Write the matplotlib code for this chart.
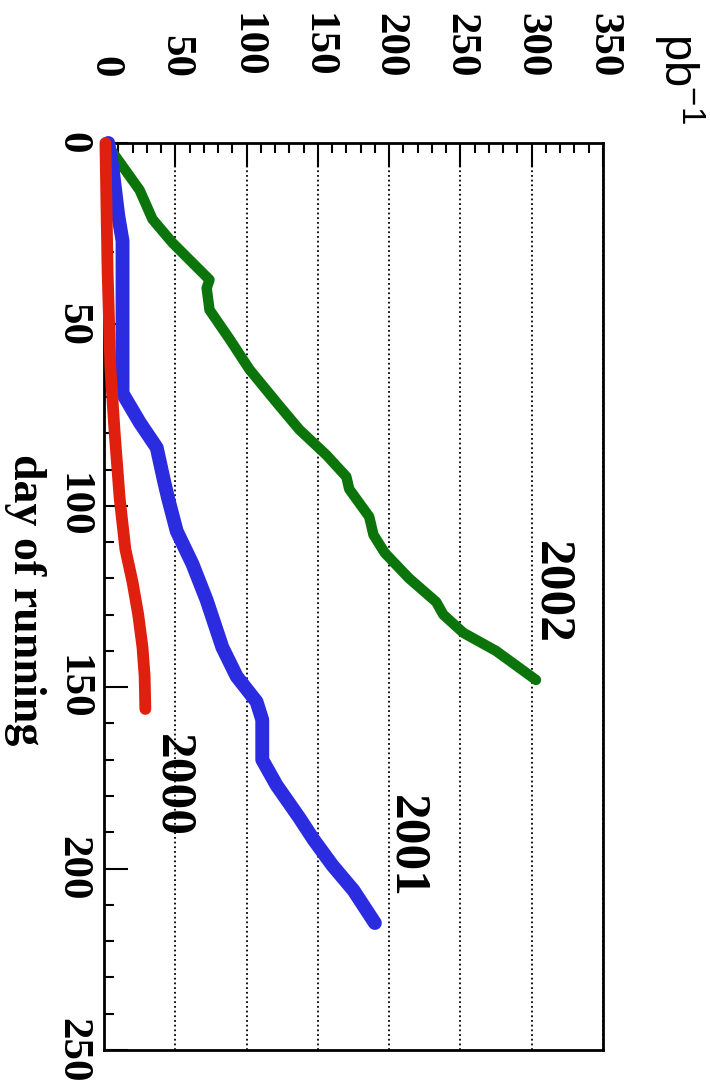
import numpy as np
import matplotlib.pyplot as plt
from matplotlib.ticker import MultipleLocator

plt.rcParams['font.family'] = ['Liberation Serif', 'DejaVu Serif']
plt.rcParams['font.weight'] = 'bold'
plt.rcParams['mathtext.default'] = 'regular'

# integrated luminosity (pb^-1) against day of running, one run per year
day_2000 = [0, 35, 62, 80, 98, 112, 121, 130, 139, 147, 156]
lumi_2000 = [1, 2.5, 4.5, 7.5, 11, 15, 20, 24, 27, 28.5, 29]

day_2001 = [0, 7, 20, 27, 69, 77, 84, 93, 98, 107, 116, 126, 139, 147, 154, 159,
            170, 177, 186, 192, 199, 206, 215]
lumi_2001 = [3, 6, 10, 13, 13, 25, 37, 42, 45, 51, 62, 72, 83, 93, 107, 111,
             111, 121, 137, 147, 160, 175, 190]

day_2002 = [2, 13, 21, 27.5, 37.7, 40, 46, 54, 62.4, 71.5, 79, 86, 92, 95.4,
            103, 108, 113, 120, 126.5, 130, 135, 140, 148]
lumi_2002 = [5, 25, 34, 48, 74, 72, 74, 88, 102, 121, 137, 156, 170, 172,
             186, 189, 197, 214, 233, 238, 252, 275, 303]

years = ['2000', '2001', '2002']
colors = ['#e0200f', '#2b2be0', '#0b750b']
label_pos = [(48, 177), (212, 194), (314, 124)]

fig = plt.figure(figsize=(7.1, 10.92), dpi=100)
ax = fig.add_axes([104/710, 1 - 1050/1092, 499/710, 907/1092])

line_kw = dict(solid_capstyle='round', solid_joinstyle='round', clip_on=False)
ax.plot(lumi_2002, day_2002, color=colors[2], lw=7.5, zorder=3, **line_kw)
ax.plot(lumi_2001, day_2001, color=colors[1], lw=10, zorder=4, **line_kw)
ax.plot(lumi_2000, day_2000, color=colors[0], lw=8.5, zorder=5, **line_kw)

for yr, (x, y) in zip(years, label_pos):
    ax.text(x, y, yr, rotation=-90, ha='center', va='center', fontsize=37,
            zorder=6)

ax.set_xlim(0, 350)
ax.set_ylim(250, 0)

ax.xaxis.tick_top()
ax.xaxis.set_major_locator(MultipleLocator(50))
ax.xaxis.set_minor_locator(MultipleLocator(10))
ax.yaxis.set_major_locator(MultipleLocator(50))
ax.yaxis.set_minor_locator(MultipleLocator(10))
ax.tick_params(which='both', direction='in', width=1.5, color='k',
               top=True, bottom=False, left=True, right=False)
ax.tick_params(which='major', length=17)
ax.tick_params(which='minor', length=7)
ax.tick_params(axis='x', labelsize=31, pad=47, labelrotation=-90)
ax.tick_params(axis='y', labelsize=31, pad=9, labelrotation=-90)
for lab in ax.get_yticklabels():
    lab.set_va('center')

ax.grid(axis='x', which='major', color='k', ls=(0, (1, 1.6)), lw=1.3, zorder=1)
for sp in ax.spines.values():
    sp.set_linewidth(2)

fig.text(25/710, 1 - 600/1092, 'day of running', rotation=-90, ha='center',
         va='center', fontsize=33)
fig.text(679/710, 1 - 33/1092, 'pb$^{-1}$', rotation=-90, ha='center', va='top',
         fontsize=34, family='Liberation Sans', weight='normal')

fig.savefig('out.png', dpi=100)
